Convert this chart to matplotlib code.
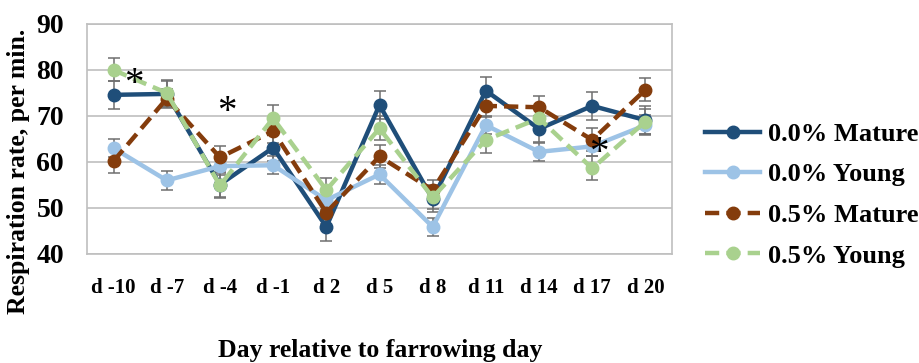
import numpy as np
import matplotlib
matplotlib.use('Agg')
import matplotlib.pyplot as plt

plt.rcParams['font.family'] = ['Liberation Serif', 'DejaVu Serif']
plt.rcParams['font.weight'] = 'bold'

dias = ['d -10', 'd -7', 'd -4', 'd -1', 'd 2', 'd 5', 'd 8', 'd 11', 'd 14', 'd 17', 'd 20']

maduro_00 = [74.6, 74.8, 55.1, 63.1, 45.9, 72.4, 51.9, 75.5, 67.2, 72.2, 69.1]
joven_00 = [63.0, 56.0, 59.1, 59.3, 51.7, 57.3, 45.9, 68.0, 62.2, 63.4, 68.0]
maduro_05 = [60.2, 73.8, 61.0, 66.7, 49.0, 61.2, 53.9, 72.2, 71.9, 64.8, 75.7]
joven_05 = [80.0, 75.0, 54.9, 69.5, 53.9, 67.3, 52.3, 64.8, 69.5, 58.6, 68.8]

err_maduro_00 = [3.0, 2.8, 2.8, 2.8, 3.0, 3.0, 2.8, 3.0, 2.8, 3.0, 3.0]
err_joven_00 = [2.0, 2.0, 2.0, 2.0, 2.2, 2.0, 2.0, 2.0, 2.0, 2.2, 2.2]
err_maduro_05 = [2.5, 2.0, 2.5, 2.5, 2.5, 2.5, 2.2, 2.5, 2.5, 2.5, 2.5]
err_joven_05 = [2.5, 2.8, 2.8, 2.8, 2.6, 2.6, 2.6, 2.8, 2.6, 2.6, 2.8]

# asteriscos: (posicion en eje x, valor)
asteriscos = [(0.38, 78.5), (2.13, 72.4), (9.13, 63.5)]

series = [
    ('0.0% Mature', maduro_00, err_maduro_00, '#1F4E79', '-'),
    ('0.0% Young', joven_00, err_joven_00, '#9DC3E6', '-'),
    ('0.5% Mature', maduro_05, err_maduro_05, '#843C0C', (0, (3.2, 1.6))),
    ('0.5% Young', joven_05, err_joven_05, '#A9D18E', (0, (3.2, 1.6))),
]

fig = plt.figure(figsize=(9.19, 3.63), dpi=100)
ax = fig.add_axes([87 / 919, 1 - 254 / 363, 585 / 919, 230 / 363])

x = np.arange(len(dias))
for nombre, vals, errs, color, estilo in series:
    ax.errorbar(x, vals, yerr=errs, fmt='none', ecolor='#6F6F6F',
                elinewidth=1.1, capsize=4, capthick=1.1, zorder=2)
for nombre, vals, errs, color, estilo in series:
    ax.plot(x, vals, color=color, linestyle=estilo, linewidth=3.2,
            marker='o', markersize=9, label=nombre, zorder=3)

for px, py in asteriscos:
    ax.text(px, py - 1.6, '*', fontsize=28, ha='center', va='center',
            fontweight='normal', color='black', zorder=5)

ax.set_xlim(-0.5, len(dias) - 0.5)
ax.set_ylim(40, 90)
ax.set_yticks(np.arange(40, 91, 10))
ax.set_xticks(x)
ax.set_xticklabels(dias, fontsize=15, fontweight='bold')
ax.tick_params(axis='y', labelsize=20, length=0, pad=16.5)
ax.tick_params(axis='x', length=0, pad=17)
for lab in ax.get_yticklabels():
    lab.set_fontweight('bold')

ax.grid(axis='y', color='#BFBFBF', linewidth=1.2)
ax.set_axisbelow(True)
for s in ax.spines.values():
    s.set_color('#BFBFBF')
    s.set_linewidth(1.2)

fig.text(19 / 919, 1 - 171 / 363, 'Respiration rate, per min.', rotation=90,
         ha='center', va='center', fontsize=18.5, fontweight='bold')
fig.text(380 / 919, 1 - 350 / 363, 'Day relative to farrowing day',
         ha='center', va='center', fontsize=18.5, fontweight='bold')

fig.legend(loc='center left', bbox_to_anchor=(705 / 919, 1 - 195 / 363),
           frameon=False, fontsize=19, handlelength=2.1, handletextpad=0.3,
           labelspacing=0.65, borderpad=0, borderaxespad=0)

fig.savefig('out.png', dpi=100)
